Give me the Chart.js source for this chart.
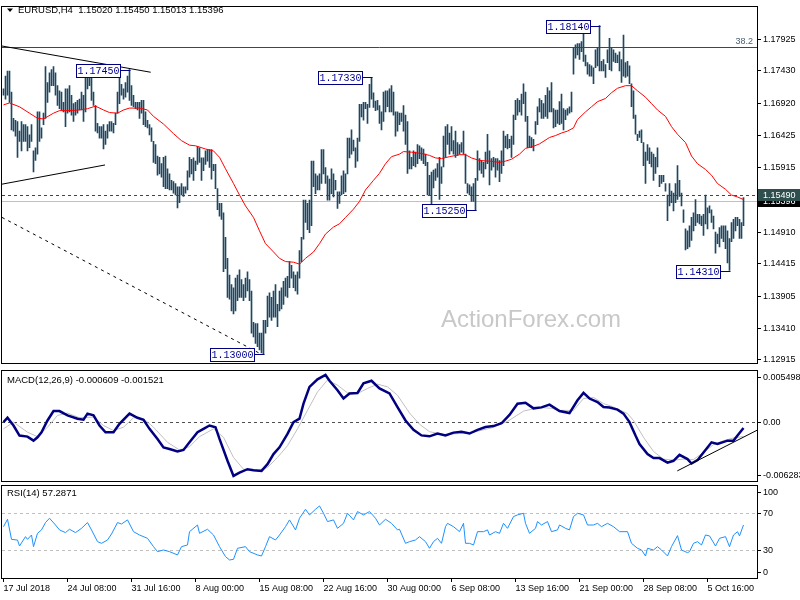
<!DOCTYPE html>
<html>
<head>
<meta charset="utf-8">
<script src="https://cdn.jsdelivr.net/npm/chart.js@4.4.1/dist/chart.umd.min.js"></script>
<style>
  body { margin: 0; background: #fff; width: 800px; height: 600px; overflow: hidden; position: relative; }
  canvas { position: absolute; left: 0; }
</style>
</head>
<body>
<canvas id="price" width="800" height="370" style="top:0"></canvas>
<canvas id="macd" width="800" height="113" style="top:370px"></canvas>
<canvas id="rsi" width="800" height="117" style="top:483px"></canvas>
<script>
// EURUSD H4 bars, index 0 = 17 Jul 2018 00:00
const highs = [
  1.1715,1.1735,1.1743,1.1743,1.1710,1.1669,1.1666,1.1664,1.1649,1.1664,
  1.1659,1.1659,1.1656,1.1643,1.1659,1.1618,1.1623,1.1679,1.1679,1.1654,
  1.1677,1.1750,1.1725,1.1740,1.1745,1.1750,1.1740,1.1720,1.1712,1.1710,
  1.1694,1.1715,1.1715,1.1720,1.1705,1.1692,1.1694,1.1697,1.1699,1.1710,
  1.1705,1.1740,1.1740,1.1738,1.1740,1.1710,1.1689,1.1661,1.1656,1.1656,
  1.1659,1.1649,1.1659,1.1664,1.1664,1.1661,1.1677,1.1710,1.1733,1.1722,
  1.1715,1.1725,1.1735,1.1745,1.1720,1.1705,1.1694,1.1694,1.1694,1.1697,
  1.1697,1.1679,1.1666,1.1659,1.1654,1.1633,1.1628,1.1610,1.1608,1.1598,
  1.1608,1.1610,1.1590,1.1582,1.1572,1.1570,1.1567,1.1562,1.1562,1.1567,
  1.1562,1.1562,1.1587,1.1608,1.1605,1.1607,1.1602,1.1625,1.1623,1.1607,
  1.1607,1.1618,1.1620,1.1620,1.1620,1.1597,1.1597,1.1559,1.1536,1.1536,
  1.1521,1.1483,1.1450,1.1424,1.1409,1.1404,1.1419,1.1424,1.1432,1.1417,
  1.1409,1.1419,1.1429,1.1417,1.1399,1.1350,1.1348,1.1348,1.1333,1.1333,
  1.1353,1.1353,1.1391,1.1396,1.1389,1.1399,1.1409,1.1378,1.1399,1.1404,
  1.1414,1.1419,1.1422,1.1445,1.1439,1.1429,1.1424,1.1429,1.1462,1.1483,
  1.1541,1.1541,1.1536,1.1541,1.1602,1.1602,1.1582,1.1579,1.1582,1.1620,
  1.1620,1.1592,1.1579,1.1574,1.1590,1.1582,1.1572,1.1554,1.1554,1.1579,
  1.1587,1.1582,1.1638,1.1638,1.1651,1.1635,1.1623,1.1638,1.1691,1.1691,
  1.1694,1.1694,1.1691,1.1722,1.1733,1.1709,1.1696,1.1697,1.1689,1.1679,
  1.1710,1.1712,1.1712,1.1715,1.1720,1.1710,1.1679,1.1679,1.1677,1.1677,
  1.1689,1.1674,1.1664,1.1618,1.1608,1.1618,1.1616,1.1628,1.1626,1.1623,
  1.1621,1.1613,1.1600,1.1580,1.1585,1.1588,1.1590,1.1598,1.1608,1.1593,
  1.1641,1.1656,1.1659,1.1646,1.1656,1.1634,1.1649,1.1631,1.1628,1.1631,
  1.1649,1.1613,1.1567,1.1565,1.1562,1.1567,1.1575,1.1618,1.1606,1.1603,
  1.1600,1.1616,1.1644,1.1618,1.1606,1.1608,1.1606,1.1606,1.1603,1.1618,
  1.1649,1.1641,1.1644,1.1636,1.1641,1.1674,1.1697,1.1700,1.1697,1.1707,
  1.1723,1.1710,1.1672,1.1641,1.1639,1.1636,1.1664,1.1687,1.1700,1.1697,
  1.1692,1.1705,1.1717,1.1712,1.1725,1.1684,1.1682,1.1682,1.1695,1.1707,
  1.1684,1.1682,1.1684,1.1687,1.1710,1.1779,1.1784,1.1786,1.1786,1.1789,
  1.1804,1.1768,1.1756,1.1753,1.1751,1.1748,1.1776,1.1779,1.1814,1.1758,
  1.1761,1.1753,1.1776,1.1794,1.1779,1.1776,1.1771,1.1768,1.1773,1.1761,
  1.1799,1.1756,1.1758,1.1751,1.1723,1.1712,1.1674,1.1644,1.1649,1.1651,
  1.1631,1.1616,1.1628,1.1623,1.1616,1.1613,1.1608,1.1623,1.1580,1.1580,
  1.1580,1.1567,1.1549,1.1567,1.1555,1.1552,1.1567,1.1595,1.1572,1.1552,
  1.1526,1.1496,1.1493,1.1501,1.1514,1.1521,1.1542,1.1519,1.1519,1.1516,
  1.1519,1.1549,1.1529,1.1532,1.1526,1.1516,1.1491,1.1488,1.1498,1.1501,
  1.1501,1.1501,1.1493,1.1481,1.1506,1.1511,1.1514,1.1514,1.1511,1.1506,
  1.1545
];
const lows = [
  1.1705,1.1699,1.1705,1.1694,1.1651,1.1649,1.1641,1.1608,1.1633,1.1618,
  1.1633,1.1633,1.1618,1.1623,1.1633,1.1585,1.1603,1.1613,1.1633,1.1638,
  1.1659,1.1669,1.1694,1.1710,1.1720,1.1720,1.1705,1.1689,1.1684,1.1682,
  1.1679,1.1656,1.1677,1.1679,1.1674,1.1664,1.1674,1.1677,1.1682,1.1682,
  1.1664,1.1679,1.1715,1.1720,1.1697,1.1689,1.1649,1.1646,1.1638,1.1638,
  1.1621,1.1628,1.1638,1.1649,1.1649,1.1646,1.1659,1.1677,1.1692,1.1705,
  1.1699,1.1702,1.1710,1.1697,1.1689,1.1687,1.1684,1.1682,1.1669,1.1677,
  1.1659,1.1656,1.1654,1.1643,1.1633,1.1600,1.1598,1.1580,1.1582,1.1577,
  1.1562,1.1559,1.1559,1.1557,1.1557,1.1552,1.1549,1.1529,1.1537,1.1549,
  1.1547,1.1552,1.1557,1.1577,1.1582,1.1572,1.1587,1.1597,1.1600,1.1572,
  1.1587,1.1597,1.1602,1.1592,1.1574,1.1587,1.1559,1.1526,1.1516,1.1511,
  1.1429,1.1434,1.1389,1.1386,1.1368,1.1363,1.1368,1.1384,1.1389,1.1389,
  1.1384,1.1389,1.1399,1.1384,1.1333,1.1327,1.1317,1.1312,1.1307,1.1302,
  1.1300,1.1333,1.1343,1.1358,1.1353,1.1358,1.1358,1.1343,1.1368,1.1371,
  1.1378,1.1391,1.1389,1.1404,1.1419,1.1404,1.1399,1.1394,1.1419,1.1445,
  1.1480,1.1506,1.1495,1.1490,1.1501,1.1562,1.1551,1.1557,1.1557,1.1567,
  1.1582,1.1567,1.1541,1.1541,1.1551,1.1546,1.1557,1.1528,1.1536,1.1549,
  1.1551,1.1554,1.1582,1.1607,1.1613,1.1618,1.1592,1.1602,1.1633,1.1671,
  1.1666,1.1684,1.1661,1.1686,1.1699,1.1686,1.1681,1.1682,1.1661,1.1651,
  1.1664,1.1679,1.1687,1.1679,1.1679,1.1674,1.1641,1.1649,1.1659,1.1664,
  1.1649,1.1628,1.1583,1.1590,1.1590,1.1595,1.1593,1.1598,1.1606,1.1603,
  1.1598,1.1595,1.1549,1.1549,1.1532,1.1560,1.1572,1.1577,1.1542,1.1567,
  1.1593,1.1608,1.1628,1.1613,1.1618,1.1613,1.1608,1.1611,1.1613,1.1616,
  1.1613,1.1567,1.1552,1.1549,1.1539,1.1539,1.1525,1.1572,1.1588,1.1583,
  1.1577,1.1590,1.1598,1.1565,1.1588,1.1593,1.1577,1.1588,1.1570,1.1583,
  1.1595,1.1623,1.1621,1.1623,1.1608,1.1628,1.1667,1.1674,1.1679,1.1674,
  1.1692,1.1664,1.1623,1.1623,1.1623,1.1618,1.1644,1.1659,1.1679,1.1669,
  1.1669,1.1672,1.1669,1.1679,1.1679,1.1654,1.1656,1.1661,1.1659,1.1661,
  1.1651,1.1667,1.1674,1.1677,1.1679,1.1738,1.1763,1.1768,1.1761,1.1773,
  1.1758,1.1751,1.1738,1.1735,1.1735,1.1723,1.1748,1.1751,1.1743,1.1743,
  1.1743,1.1733,1.1756,1.1745,1.1743,1.1758,1.1756,1.1756,1.1743,1.1725,
  1.1735,1.1733,1.1735,1.1723,1.1687,1.1669,1.1644,1.1634,1.1639,1.1631,
  1.1595,1.1567,1.1603,1.1598,1.1593,1.1572,1.1583,1.1593,1.1562,1.1567,
  1.1570,1.1555,1.1509,1.1532,1.1537,1.1524,1.1537,1.1542,1.1547,1.1532,
  1.1506,1.1463,1.1465,1.1468,1.1478,1.1493,1.1501,1.1506,1.1504,1.1501,
  1.1486,1.1504,1.1496,1.1521,1.1506,1.1496,1.1458,1.1473,1.1468,1.1481,
  1.1476,1.1465,1.1443,1.1431,1.1476,1.1481,1.1493,1.1501,1.1481,1.1481,
  1.1501
];

// moving average: [bar index, price]
const maLine = [[0,1.1690],[3,1.1693],[8,1.1687],[13,1.1677],[17,1.1669],[20,1.1668],[25,1.1677],[28,1.1681],[33,1.1681],[38,1.1682],[42,1.1684],[46,1.1688],[50,1.1682],[53,1.1678],[57,1.1677],[60,1.1682],[63,1.1685],[68,1.1685],[72,1.1682],[75,1.1672],[80,1.1660],[85,1.1645],[89,1.1634],[93,1.1627],[96,1.1626],[101,1.1621],[105,1.1618],[108,1.1608],[111,1.1590],[115,1.1567],[118,1.1549],[121,1.1532],[125,1.1514],[128,1.1493],[131,1.1473],[135,1.1460],[138,1.1450],[141,1.1445],[145,1.1444],[148,1.1441],[151,1.1450],[155,1.1460],[158,1.1473],[161,1.1488],[165,1.1499],[168,1.1504],[171,1.1514],[175,1.1527],[178,1.1539],[181,1.1557],[185,1.1572],[188,1.1583],[191,1.1598],[194,1.1609],[198,1.1613],[200,1.1617],[204,1.1616],[209,1.1614],[213,1.1611],[216,1.1607],[219,1.1606],[223,1.1609],[228,1.1612],[231,1.1612],[234,1.1607],[238,1.1603],[243,1.1602],[248,1.1600],[251,1.1602],[254,1.1605],[258,1.1613],[261,1.1622],[264,1.1624],[268,1.1629],[273,1.1639],[276,1.1642],[279,1.1646],[282,1.1649],[285,1.1654],[287,1.1667],[291,1.1679],[294,1.1687],[297,1.1695],[301,1.1700],[304,1.1709],[307,1.1716],[311,1.1720],[314,1.1720],[317,1.1712],[321,1.1702],[324,1.1692],[327,1.1682],[331,1.1672],[334,1.1656],[337,1.1644],[341,1.1631],[344,1.1610],[347,1.1598],[351,1.1589],[354,1.1580],[357,1.1567],[361,1.1558],[364,1.1549],[367,1.1546],[370,1.1542]];

const macdLine = [[0,0.00002],[2,0.00049],[5,-0.00034],[8,-0.00142],[12,-0.00153],[15,-0.00196],[17,-0.00160],[19,-0.00106],[22,0.00020],[25,0.00121],[28,0.00121],[32,0.00074],[37,0.00039],[40,0.00028],[42,0.00093],[45,0.00074],[48,-0.00034],[51,-0.00106],[55,-0.00106],[58,-0.00016],[63,0.00093],[67,0.00049],[70,0.00028],[73,-0.00070],[77,-0.00178],[80,-0.00268],[83,-0.00286],[87,-0.00312],[90,-0.00296],[93,-0.00214],[97,-0.00106],[100,-0.00070],[103,-0.00034],[106,-0.00052],[108,-0.00178],[112,-0.00412],[115,-0.00574],[118,-0.00539],[122,-0.00502],[125,-0.00513],[129,-0.00520],[132,-0.00448],[135,-0.00340],[138,-0.00268],[142,-0.00124],[145,0.00002],[148,0.00039],[150,0.00201],[153,0.00380],[157,0.00460],[161,0.00507],[163,0.00445],[167,0.00344],[170,0.00255],[173,0.00309],[177,0.00315],[180,0.00417],[184,0.00445],[188,0.00363],[193,0.00309],[197,0.00164],[201,0.00020],[205,-0.00080],[209,-0.00140],[213,-0.00150],[217,-0.00120],[221,-0.00140],[225,-0.00110],[229,-0.00100],[233,-0.00120],[237,-0.00080],[241,-0.00050],[245,-0.00040],[249,-0.00010],[253,0.00080],[257,0.00200],[261,0.00210],[265,0.00150],[269,0.00160],[273,0.00190],[278,0.00121],[283,0.00099],[287,0.00236],[290,0.00315],[293,0.00255],[297,0.00218],[300,0.00164],[303,0.00158],[307,0.00136],[310,0.00093],[313,0.00002],[316,-0.00142],[318,-0.00232],[322,-0.00340],[325,-0.00383],[328,-0.00383],[332,-0.00431],[335,-0.00412],[338,-0.00348],[342,-0.00394],[344,-0.00441],[347,-0.00405],[350,-0.00322],[354,-0.00214],[357,-0.00232],[362,-0.00196],[365,-0.00196],[367,-0.00142],[370,-0.00061]];
const signalLine = [[0,-0.00070],[5,0.00002],[12,-0.00106],[17,-0.00153],[22,-0.00052],[27,0.00074],[32,0.00099],[38,0.00049],[45,0.00056],[50,-0.00034],[55,-0.00088],[60,-0.00052],[65,0.00049],[70,0.00039],[75,-0.00052],[82,-0.00214],[88,-0.00296],[93,-0.00261],[98,-0.00153],[105,-0.00070],[110,-0.00160],[115,-0.00376],[120,-0.00502],[127,-0.00513],[132,-0.00484],[137,-0.00376],[142,-0.00250],[147,-0.00070],[152,0.00128],[157,0.00326],[162,0.00453],[167,0.00398],[172,0.00315],[177,0.00309],[182,0.00363],[187,0.00409],[192,0.00380],[197,0.00290],[203,0.00100],[208,-0.00020],[213,-0.00100],[220,-0.00130],[228,-0.00120],[236,-0.00100],[244,-0.00060],[252,0.00010],[260,0.00120],[268,0.00160],[274,0.00150],[278,0.00128],[285,0.00128],[290,0.00255],[295,0.00266],[300,0.00201],[305,0.00164],[312,0.00093],[315,0.00020],[320,-0.00160],[325,-0.00312],[330,-0.00394],[335,-0.00405],[340,-0.00394],[345,-0.00398],[350,-0.00322],[355,-0.00239],[360,-0.00196],[365,-0.00167],[370,-0.00152]];
const rsiLine = [[0,55.5],[2,63.5],[4,41.8],[7,41],[8,34.6],[11,44.7],[12,41.8],[14,46.5],[15,33.9],[17,48.3],[19,52],[21,59.9],[23,64.6],[26,57.3],[28,52],[31,49.1],[33,52.7],[36,49.1],[39,53.7],[42,59.9],[44,52],[47,39.3],[49,37.5],[52,41.1],[54,47.6],[57,59.9],[59,58.4],[62,62.8],[65,50.1],[68,46.5],[72,42.9],[75,33.9],[77,28.5],[80,30.3],[83,28.5],[87,24.9],[89,33.9],[92,35.7],[93,50.1],[97,57.3],[98,48.3],[102,52.7],[105,46.5],[108,33.9],[111,23.1],[113,19.5],[115,20.2],[117,32.1],[121,33.9],[123,28.5],[127,24.9],[129,23.8],[131,33.9],[133,44.7],[136,41.1],[138,46.5],[141,55.5],[143,62.8],[146,52],[148,64.6],[151,74.3],[153,68.2],[156,74.3],[158,77.9],[160,70],[162,61],[165,62.8],[167,53.7],[170,59.1],[172,70],[175,62.8],[177,71.8],[180,68.2],[183,71.8],[186,64.6],[188,57.3],[191,63.5],[194,59.1],[197,52],[198,52.7],[201,37.5],[203,39.3],[206,41.1],[208,44.7],[211,39.3],[213,32.1],[215,39.3],[217,42.9],[219,37.5],[221,55.5],[222,59.1],[225,55.5],[228,50.1],[230,59.1],[231,37.5],[233,37.5],[235,35.7],[237,50.1],[240,50.1],[242,52],[243,46.5],[246,50.1],[248,48.3],[250,59.1],[252,53.7],[255,66.4],[257,68.2],[260,70],[261,59.1],[263,48.3],[266,53.7],[267,61],[269,57.3],[272,61],[274,50.1],[277,52],[278,57.3],[281,53.7],[283,52],[285,66.4],[287,70],[290,68.2],[292,57.3],[295,57.3],[297,59.1],[299,55.5],[302,59.1],[305,55.5],[308,50.1],[312,50.1],[314,37.5],[317,32.1],[319,30.3],[321,23.8],[322,32.1],[325,30.3],[327,33.9],[329,30.3],[332,23.8],[334,33.9],[337,45.8],[339,30.3],[342,27.4],[343,28.5],[345,37.5],[347,39.3],[349,35.7],[351,46.5],[353,45.5],[356,34.6],[358,42.9],[361,44.7],[363,33.9],[365,46.5],[367,50.1],[368,45.5],[370,57.3]];

const priceTicks = [1.17925,1.17430,1.16920,1.16425,1.15915,1.14910,1.14415,1.13905,1.13410,1.12915];
const macdTicks = [0.005498, 0, -0.006283];
const macdTickText = ['0.005498', '0.00', '-0.006283'];
const rsiTicks = [100, 70, 30, 0];
const dateTicks = [0,32,64,96,128,160,192,224,256,288,320,352];
const dateLabels = ['17 Jul 2018','24 Jul 08:00','31 Jul 16:00','8 Aug 00:00','15 Aug 08:00','22 Aug 16:00','30 Aug 00:00','6 Sep 08:00','13 Sep 16:00','21 Sep 00:00','28 Sep 08:00','5 Oct 16:00'];

// swing labels [bar index, price]
const swings = [[63,1.1745],[184,1.1733],[130,1.1300],[236,1.1525],[298,1.1814],[363,1.1431]];
const fibLevel = 1.1780;
const askLevel = 1.15490;
const bidLevel = 1.15396;
const trendUpper = [[-0.75,1.1782],[73.6,1.1741]];
const trendLower = [[-0.75,1.1566],[50.75,1.1596]];
const trendDashed = [[-0.75,1.1514],[129,1.1300]];
const macdTrend = [[336.9,-0.0052],[376.75,-0.00085]];

const FONT = '"Liberation Sans", Arial, sans-serif';
const barColor = '#1e4760';
const xRange = { type: 'linear', min: -0.75, max: 376.75, offset: false };
const pts = arr => arr.map(([x, y]) => ({ x, y }));

const frame = {
  id: 'frame',
  afterDraw(c) {
    const { ctx, chartArea: a } = c;
    ctx.save();
    ctx.strokeStyle = '#000';
    ctx.lineWidth = 1;
    const t = Math.round(a.top), b = Math.round(a.bottom);
    ctx.strokeRect(Math.round(a.left) - 0.5, t - 0.5, Math.round(a.right) - Math.round(a.left) + 1, b - t + 1);
    ctx.restore();
  }
};

function segment(c, seg, dash) {
  const { ctx, scales: { x, y } } = c;
  ctx.save();
  ctx.strokeStyle = '#000';
  ctx.lineWidth = 1;
  ctx.setLineDash(dash || []);
  ctx.beginPath();
  ctx.moveTo(x.getPixelForValue(seg[0][0]), y.getPixelForValue(seg[0][1]));
  ctx.lineTo(x.getPixelForValue(seg[1][0]), y.getPixelForValue(seg[1][1]));
  ctx.stroke();
  ctx.restore();
}

function hLine(c, v, color, dash) {
  const { ctx, chartArea: a, scales: { y } } = c;
  const py = Math.round(y.getPixelForValue(v)) + 0.5;
  ctx.save();
  ctx.strokeStyle = color;
  ctx.lineWidth = 1;
  ctx.setLineDash(dash || []);
  ctx.beginPath();
  ctx.moveTo(a.left, py);
  ctx.lineTo(a.right, py);
  ctx.stroke();
  ctx.restore();
}

function sideLabels(c, values, texts) {
  const { ctx, chartArea: a, scales: { y } } = c;
  ctx.save();
  ctx.font = '9px ' + FONT;
  ctx.fillStyle = '#000';
  ctx.textBaseline = 'middle';
  ctx.textAlign = 'left';
  values.forEach((v, k) => {
    const py = Math.round(Math.min(Math.max(y.getPixelForValue(v), a.top + 6), a.bottom - 6));
    ctx.fillRect(a.right, py, 4, 1);
    ctx.fillText(texts[k], a.right + 6, py + 0.5);
  });
  ctx.restore();
}

function paneTitle(c, text) {
  const { ctx } = c;
  ctx.save();
  ctx.font = '9.5px ' + FONT;
  ctx.fillStyle = '#000';
  ctx.textBaseline = 'middle';
  ctx.fillText(text, 7, 10);
  ctx.restore();
}

const priceDeco = {
  id: 'priceDeco',
  beforeDatasetsDraw(c) {
    const { ctx } = c;
    ctx.save();
    ctx.font = '24px ' + FONT;
    ctx.fillStyle = '#c8c8c8';
    ctx.textAlign = 'center';
    ctx.textBaseline = 'middle';
    ctx.fillText('ActionForex.com', 531, 320);
    ctx.restore();
    hLine(c, fibLevel, '#2f4f4f');
    hLine(c, bidLevel, '#c0c0c0');
    hLine(c, askLevel, '#2f4f4f', [3, 3]);
  },
  afterDraw(c) {
    const { ctx, chartArea: a, scales: { x, y } } = c;
    segment(c, trendUpper);
    segment(c, trendLower);
    segment(c, trendDashed, [3, 4]);

    ctx.save();
    ctx.font = '9px ' + FONT;
    ctx.fillStyle = '#4a6070';
    ctx.textAlign = 'right';
    ctx.textBaseline = 'alphabetic';
    ctx.fillText('38.2', a.right - 4, y.getPixelForValue(fibLevel) - 3);

    // swing high / low labels
    ctx.font = '10px "Liberation Mono", "DejaVu Sans Mono", monospace';
    ctx.textAlign = 'center';
    ctx.textBaseline = 'middle';
    swings.forEach(([i, p]) => {
      const px = Math.round(x.getPixelForValue(i)) + 0.5;
      const py = Math.round(y.getPixelForValue(p)) + 0.5;
      const r = px - 10, w = 44, h = 13;
      ctx.strokeStyle = '#000080';
      ctx.lineWidth = 1;
      ctx.beginPath();
      ctx.moveTo(r, py);
      ctx.lineTo(px, py);
      ctx.stroke();
      ctx.fillStyle = '#fff';
      ctx.fillRect(r - w, py - 6, w, h);
      ctx.strokeRect(r - w, py - 6, w, h);
      ctx.fillStyle = '#000099';
      ctx.fillText(p.toFixed(5), r - w / 2, py + 1);
    });

    // title
    ctx.fillStyle = '#000';
    ctx.beginPath();
    ctx.moveTo(7, 8.5); ctx.lineTo(13, 8.5); ctx.lineTo(10, 12); ctx.closePath();
    ctx.fill();
    ctx.font = '9.5px ' + FONT;
    ctx.textAlign = 'left';
    ctx.fillText('EURUSD,H4  1.15020 1.15450 1.15013 1.15396', 18, 10.5);

    // current price boxes on the axis
    ctx.font = '9px ' + FONT;
    [[bidLevel, '#000'], [askLevel, '#2f4f4f']].forEach(([v, bg]) => {
      const py = Math.round(y.getPixelForValue(v));
      ctx.fillStyle = bg;
      ctx.fillRect(a.right + 1, py - 6, 800 - a.right - 1, 12);
      ctx.fillStyle = '#fff';
      ctx.fillText(v.toFixed(5), a.right + 6, py + 0.5);
    });
    ctx.restore();
  }
};

new Chart(document.getElementById('price'), {
  type: 'bar',
  data: {
    datasets: [
      { type: 'line', data: pts(maLine), borderColor: '#ff0000', borderWidth: 1, pointRadius: 0, order: 1 },
      { type: 'bar', data: highs.map((h, i) => ({ x: i, y: [lows[i], h] })), backgroundColor: barColor,
        borderWidth: 0, barThickness: 1, order: 2 }
    ]
  },
  options: {
    animation: false, responsive: false, devicePixelRatio: 1,
    layout: { padding: { left: 2, top: 3, bottom: 3, right: 0 } },
    plugins: { legend: { display: false }, tooltip: { enabled: false } },
    scales: {
      x: { ...xRange, display: false, grid: { offset: false } },
      y: {
        position: 'right', min: 1.1287, max: 1.18424,
        afterFit: s => { s.width = 43; },
        afterBuildTicks: s => { s.ticks = priceTicks.map(v => ({ value: v })); },
        grid: { drawOnChartArea: false, tickLength: 4, color: '#000' },
        border: { display: false },
        ticks: { color: '#000', font: { family: FONT, size: 9 }, padding: 2, autoSkip: false, callback: v => v.toFixed(5) }
      }
    }
  },
  plugins: [priceDeco, frame]
});

new Chart(document.getElementById('macd'), {
  type: 'line',
  data: {
    datasets: [
      { data: pts(macdLine), borderColor: '#000080', borderWidth: 2.5, pointRadius: 0 },
      { data: pts(signalLine), borderColor: '#c0c0c0', borderWidth: 1, pointRadius: 0 }
    ]
  },
  options: {
    animation: false, responsive: false, devicePixelRatio: 1,
    layout: { padding: { left: 2, top: 1, bottom: 2, right: 0 } },
    plugins: { legend: { display: false }, tooltip: { enabled: false } },
    scales: {
      x: { ...xRange, display: false },
      y: {
        position: 'right', min: -0.006283, max: 0.005498,
        afterFit: s => { s.width = 43; },
        grid: { display: false }, border: { display: false }, ticks: { display: false }
      }
    }
  },
  plugins: [{
    id: 'macdDeco',
    beforeDatasetsDraw(c) { hLine(c, 0, '#505050', [3, 3]); },
    afterDraw(c) {
      segment(c, macdTrend);
      sideLabels(c, macdTicks, macdTickText);
      paneTitle(c, 'MACD(12,26,9) -0.000609 -0.001521');
    }
  }, frame]
});

new Chart(document.getElementById('rsi'), {
  type: 'line',
  data: {
    datasets: [
      { data: pts(rsiLine), borderColor: '#1e90ff', borderWidth: 1, pointRadius: 0 }
    ]
  },
  options: {
    animation: false, responsive: false, devicePixelRatio: 1,
    layout: { padding: { left: 2, top: 2.5, bottom: 0, right: 0 } },
    plugins: { legend: { display: false }, tooltip: { enabled: false } },
    scales: {
      x: {
        ...xRange,
        afterFit: s => { s.height = 22; },
        afterBuildTicks: s => { s.ticks = dateTicks.map(v => ({ value: v })); },
        grid: { drawOnChartArea: false, tickLength: 4, color: '#000' },
        border: { display: false },
        ticks: { align: 'start', maxRotation: 0, autoSkip: false, padding: 1, color: '#000',
                 font: { family: FONT, size: 9 }, callback: (v, i) => dateLabels[i] }
      },
      y: {
        position: 'right', min: 0, max: 100,
        afterFit: s => { s.width = 43; },
        grid: { display: false }, border: { display: false }, ticks: { display: false }
      }
    }
  },
  plugins: [{
    id: 'rsiDeco',
    beforeDatasetsDraw(c) {
      hLine(c, 70, '#c0c0c0', [3, 3]);
      hLine(c, 30, '#c0c0c0', [3, 3]);
    },
    afterDraw(c) {
      sideLabels(c, rsiTicks, rsiTicks.map(String));
      paneTitle(c, 'RSI(14) 57.2871');
    }
  }, frame]
});
</script>
</body>
</html>
